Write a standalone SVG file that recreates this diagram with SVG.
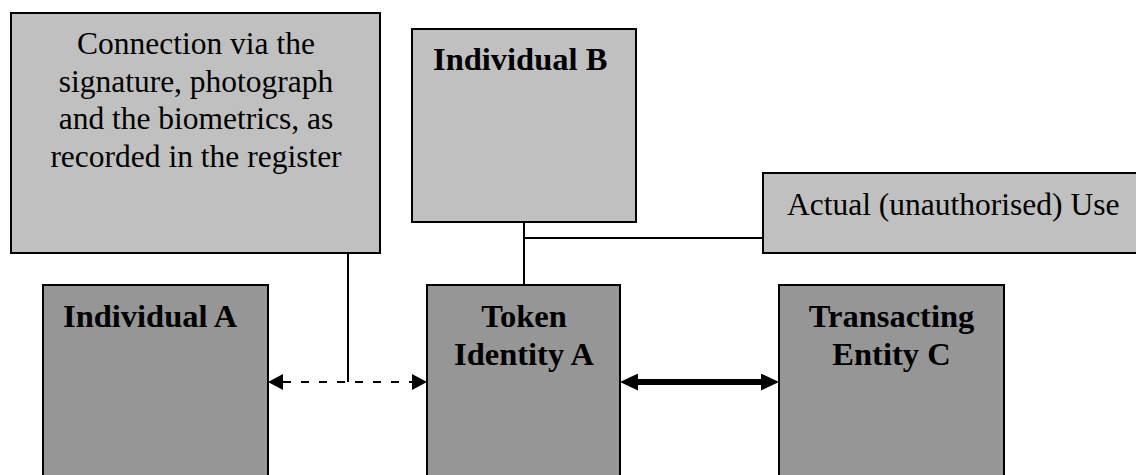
<svg xmlns="http://www.w3.org/2000/svg" width="1136" height="475" viewBox="0 0 1136 475">
<style>
.light{fill:#c0c0c0;stroke:#000;stroke-width:2}
.dark{fill:#969696;stroke:#000;stroke-width:2}
.reg{font-family:"Liberation Serif","Times New Roman",serif;font-size:31.5px;fill:#000}
.bold{font-family:"Liberation Serif","Times New Roman",serif;font-size:32.5px;font-weight:bold;fill:#000}
.conn{fill:none;stroke:#000;stroke-width:2}
</style>
<defs>
<marker id="headThin" markerUnits="userSpaceOnUse" viewBox="0 0 15 16" refX="0" refY="8" markerWidth="15" markerHeight="16" orient="auto-start-reverse"><path d="M0,0 L15,8 L0,16 z" fill="#000"/></marker>
<marker id="headThick" markerUnits="userSpaceOnUse" viewBox="0 0 18 17" refX="0" refY="8.5" markerWidth="18" markerHeight="17" orient="auto-start-reverse"><path d="M0,0 L18,8.5 L0,17 z" fill="#000"/></marker>
</defs>
<rect width="1136" height="475" fill="#fff"/>
<g id="connectors">
<path class="conn" d="M348,253 V382"/>
<path class="conn" d="M524,222 V285"/>
<path class="conn" d="M524,238 H763"/>
<path class="conn" d="M283,382 H412" stroke-dasharray="8 10" marker-start="url(#headThin)" marker-end="url(#headThin)"/>
<path d="M638,382 H761" fill="none" stroke="#000" stroke-width="6" marker-start="url(#headThick)" marker-end="url(#headThick)"/>
</g>
<g id="connection-note">
<rect class="light" x="11" y="13" width="369" height="240"/>
<text class="reg" text-anchor="middle" x="196"><tspan x="196" y="54">Connection via the</tspan><tspan x="196" y="91.5">signature, photograph</tspan><tspan x="196" y="129">and the biometrics, as</tspan><tspan x="196" y="166.5">recorded in the register</tspan></text>
</g>
<g id="individual-b">
<rect class="light" x="412" y="29" width="224" height="193"/>
<text class="bold" x="433" y="70">Individual B</text>
</g>
<g id="actual-use">
<rect class="light" x="763" y="173" width="380" height="80"/>
<text class="reg" x="787" y="215">Actual (unauthorised) Use</text>
</g>
<g id="individual-a">
<rect class="dark" x="43" y="285" width="225" height="200"/>
<text class="bold" x="63" y="327">Individual A</text>
</g>
<g id="token-identity-a">
<rect class="dark" x="427" y="285" width="193" height="200"/>
<text class="bold" text-anchor="middle"><tspan x="524" y="327">Token</tspan><tspan x="524" y="365">Identity A</tspan></text>
</g>
<g id="transacting-entity-c">
<rect class="dark" x="779" y="285" width="225" height="200"/>
<text class="bold" text-anchor="middle"><tspan x="891.5" y="327">Transacting</tspan><tspan x="891.5" y="365">Entity C</tspan></text>
</g>
</svg>
